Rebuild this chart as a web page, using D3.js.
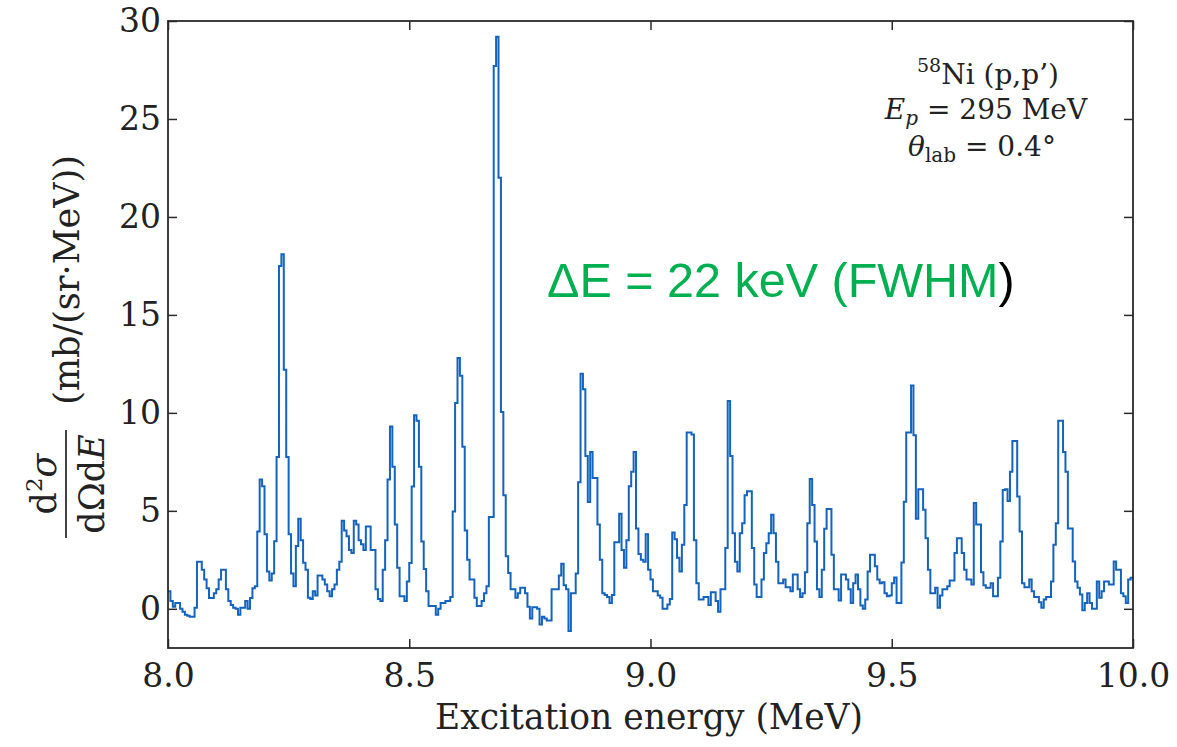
<!DOCTYPE html>
<html><head><meta charset="utf-8">
<script src="https://cdn.jsdelivr.net/npm/d3@7"></script>
<style>body{margin:0;background:#fff}</style>
</head><body>
<svg id="chart" width="1177" height="747"></svg>
<script>
// ---- data ----
const energyStart = 8.0;      // MeV, left edge of first bin
const binWidth = 0.005;       // MeV
const crossSection = [
  0.9, 0.4, 0.1, 0.3, 0.3, 0.0, -0.15, -0.3, -0.35, -0.4,
  -0.4, 0.05, 2.4, 2.4, 2.0, 1.5, 1.05, 0.55, 0.55, 0.8,
  1.0, 1.5, 2.0, 2.0, 1.0, 0.4, 0.2, 0.05, 0.0, -0.3,
  0.05, 0.05, 0.4, 0.0, 0.55, 1.05, 1.15, 3.95, 6.6, 6.25,
  3.8, 1.9, 1.45, 1.8, 3.45, 7.75, 17.5, 18.1, 12.2, 7.75,
  3.8, 1.8, 1.15, 3.2, 4.6, 3.5, 2.35, 2.0, 0.56, 0.5,
  0.9, 0.68, 1.7, 1.7, 1.5, 1.24, 0.9, 0.64, 1.0, 1.24,
  2.0, 2.4, 4.5, 4.0, 3.7, 3.0, 2.85, 4.5, 4.3, 3.5,
  3.3, 3.0, 4.2, 4.2, 3.0, 3.0, 1.0, 0.5, 0.4, 2.0,
  3.5, 6.6, 9.3, 7.25, 4.3, 2.1, 0.64, 0.64, 0.4, 1.4,
  2.34, 6.24, 9.88, 9.6, 7.25, 3.44, 2.03, 0.9, 0.14, 0.14,
  0.14, -0.3, 0.0, 0.3, 0.3, 0.4, 0.4, 0.6, 4.97, 10.5,
  12.8, 11.9, 8.27, 4.0, 2.5, 1.5, 1.5, 0.56, 0.14, 0.14,
  0.4, 0.8, 1.15, 4.68, 4.68, 27.7, 29.2, 22.0, 10.05, 5.8,
  2.68, 1.83, 1.0, 1.0, 0.56, 0.8, 1.07, 1.07, 0.8, 0.1,
  -0.5, 0.08, 0.08, 0.0, -0.8, -0.4, -0.5, -0.6, -0.6, 1.0,
  1.0, 1.0, 1.7, 2.3, 1.2, 1.0, -1.13, 0.8, 0.8, 1.8,
  6.46, 12.0, 11.2, 7.8, 5.45, 8.0, 6.67, 6.67, 4.3, 2.5,
  0.8, 0.7, 0.6, 0.3, 0.7, 3.4, 3.4, 4.85, 3.0, 2.1,
  3.5, 6.26, 7.0, 8.0, 4.1, 2.8, 2.5, 2.4, 3.8, 2.0,
  1.5, 0.9, 0.9, 0.68, 0.56, 0.0, 0.0, 0.22, 0.5, 3.9,
  3.55, 2.6, 1.9, 3.27, 5.3, 9.0, 9.0, 8.9, 3.5, 1.3,
  0.47, 0.47, 0.6, 0.6, 0.2, 0.85, 0.85, 0.4, -0.15, 1.0,
  1.0, 3.1, 10.6, 7.8, 3.86, 2.4, 1.9, 3.86, 4.37, 5.8,
  6.0, 6.0, 3.1, 1.24, 0.6, 0.6, 1.5, 2.85, 3.35, 3.86,
  4.8, 3.86, 2.4, 1.3, 1.3, 1.5, 1.1, 1.1, 0.9, 1.75,
  1.75, 1.0, 0.6, 0.8, 1.86, 4.37, 6.63, 5.3, 3.44, 1.0,
  0.6, 2.0, 4.08, 5.1, 5.1, 2.76, 1.0, 1.0, 0.42, 1.75,
  1.75, 1.5, 1.0, 0.3, 1.3, 1.75, 1.0, 0.17, 0.0, 0.47,
  1.9, 2.76, 2.76, 2.17, 1.5, 1.3, 1.35, 0.8, 0.64, 0.68,
  1.3, 1.6, 0.3, 0.3, 2.37, 5.47, 9.0, 9.0, 11.4, 8.86,
  4.6, 6.1, 6.1, 5.05, 3.6, 2.0, 0.8, 0.8, 1.07, 0.05,
  0.68, 1.0, 1.0, 1.15, 1.45, 1.45, 2.85, 3.6, 3.6, 2.85,
  2.0, 1.5, 1.5, 1.24, 5.4, 4.3, 4.3, 1.86, 1.2, 1.07,
  1.07, 1.3, 0.64, 0.64, 1.58, 3.44, 6.07, 6.1, 5.5, 7.0,
  8.56, 8.56, 5.73, 3.95, 1.3, 1.1, 1.1, 1.5, 0.9, 0.6,
  0.6, 0.34, 0.05, 0.47, 0.6, 0.6, 1.4, 3.27, 4.37, 9.6,
  9.6, 8.0, 7.0, 4.1, 4.1, 2.42, 1.4, 1.07, 0.73, -0.07,
  0.3, 0.8, 0.3, 0.0, 0.0, 1.4, 0.56, 0.9, 1.4, 1.4,
  1.24, 1.24, 2.42, 2.0, 2.0, 0.8, 0.64, 0.3, 1.5, 1.58
];
const xDomain = [8.0, 10.0];
const yDomain = [-2, 30];
const xTickValues = [8.0, 8.5, 9.0, 9.5, 10.0];
const yTickValues = [0, 5, 10, 15, 20, 25, 30];
const xAxisTitle = "Excitation energy (MeV)";
const yAxisUnit = "(mb/(sr·MeV))";
const resolutionLabel = "ΔE = 22 keV (FWHM";
const reactionLines = ["Ni (p,p’)", "= 295 MeV", "= 0.4°"];

// ---- layout ----
const plot = {left: 168, right: 1133, top: 21, bottom: 648};
const serif = "DejaVu Serif";
const lineColor = "#1463be";
const frameColor = "#2a2a2a";

const svg = d3.select("#chart");
const x = d3.scaleLinear().domain(xDomain).range([plot.left, plot.right]);
const y = d3.scaleLinear().domain(yDomain).range([plot.bottom, plot.top]);

// step data
const pts = crossSection.map((v, i) => [energyStart + i * binWidth, v]);
pts.push([energyStart + crossSection.length * binWidth, crossSection[crossSection.length - 1]]);

svg.append("defs").append("clipPath").attr("id", "clip")
  .append("rect").attr("x", plot.left).attr("y", plot.top)
  .attr("width", plot.right - plot.left).attr("height", plot.bottom - plot.top);

const line = d3.line().x(d => x(d[0])).y(d => y(d[1])).curve(d3.curveStepAfter);
svg.append("path").datum(pts)
  .attr("clip-path", "url(#clip)")
  .attr("fill", "none").attr("stroke", lineColor).attr("stroke-width", 2)
  .attr("stroke-linejoin", "miter")
  .attr("d", line);

// axes
const tickLen = 9;
function styleAxis(g, showLabels) {
  g.select(".domain").remove();
  g.selectAll(".tick line").attr("stroke", frameColor).attr("stroke-width", 1.5);
  g.selectAll(".tick text").attr("font-family", serif).attr("font-size", 33).attr("fill", "#222");
  if (!showLabels) g.selectAll(".tick text").remove();
}
svg.append("g").attr("transform", `translate(0,${plot.bottom})`)
  .call(d3.axisBottom(x).tickValues(xTickValues).tickSize(-tickLen).tickPadding(16).tickFormat(d3.format(".1f")))
  .call(g => styleAxis(g, true));
svg.append("g").attr("transform", `translate(0,${plot.top})`)
  .call(d3.axisTop(x).tickValues(xTickValues).tickSize(-tickLen))
  .call(g => styleAxis(g, false));
svg.append("g").attr("transform", `translate(${plot.left},0)`)
  .call(d3.axisLeft(y).tickValues(yTickValues).tickSize(-tickLen).tickPadding(7).tickFormat(d3.format("d")))
  .call(g => styleAxis(g, true));
svg.append("g").attr("transform", `translate(${plot.right},0)`)
  .call(d3.axisRight(y).tickValues(yTickValues).tickSize(-tickLen))
  .call(g => styleAxis(g, false));

// frame
svg.append("rect").attr("x", plot.left).attr("y", plot.top)
  .attr("width", plot.right - plot.left).attr("height", plot.bottom - plot.top)
  .attr("fill", "none").attr("stroke", frameColor).attr("stroke-width", 1.8);

// x axis title
svg.append("text").attr("x", 649).attr("y", 729)
  .attr("text-anchor", "middle").attr("font-family", serif).attr("font-size", 34.5)
  .attr("fill", "#222").text(xAxisTitle);

// y axis title (rotated)
const yl = svg.append("g").attr("transform", "rotate(-90)")
  .attr("font-family", serif).attr("fill", "#222");
const fracCenter = -484;
const num = yl.append("text").attr("x", fracCenter).attr("y", 56).attr("text-anchor", "middle").attr("font-size", 35);
num.append("tspan").text("d");
num.append("tspan").attr("dy", -14).attr("font-size", 23).text("2");
num.append("tspan").attr("dy", 14).attr("font-style", "italic").text("σ");
yl.append("line").attr("x1", fracCenter - 54).attr("x2", fracCenter + 54)
  .attr("y1", 66).attr("y2", 66).attr("stroke", "#222").attr("stroke-width", 1.7);
const den = yl.append("text").attr("x", fracCenter).attr("y", 104).attr("text-anchor", "middle").attr("font-size", 35);
den.append("tspan").text("dΩd");
den.append("tspan").attr("font-style", "italic").text("E");
yl.append("text").attr("x", -280).attr("y", 79).attr("text-anchor", "middle")
  .attr("font-size", 35).text(yAxisUnit);

// reaction annotation
const ann = svg.append("g").attr("font-family", serif).attr("fill", "#222").attr("font-size", 28);
const l1 = ann.append("text").attr("x", 988).attr("y", 84).attr("text-anchor", "middle");
l1.append("tspan").attr("font-size", 19).attr("dy", -12).text("58");
l1.append("tspan").attr("dy", 12).text(reactionLines[0]);
const l2 = ann.append("text").attr("x", 986).attr("y", 119).attr("text-anchor", "middle");
l2.append("tspan").attr("font-style", "italic").text("E");
l2.append("tspan").attr("font-style", "italic").attr("font-size", 20).attr("dy", 6).text("p");
l2.append("tspan").attr("dy", -6).text(" " + reactionLines[1]);
const l3 = ann.append("text").attr("x", 982).attr("y", 156).attr("text-anchor", "middle");
l3.append("tspan").attr("font-style", "italic").text("θ");
l3.append("tspan").attr("font-size", 20).attr("dy", 6).text("lab");
l3.append("tspan").attr("dy", -6).text(" " + reactionLines[2]);

// resolution label
const rl = svg.append("text").attr("x", 547).attr("y", 297)
  .attr("font-family", "Liberation Sans, Arial, sans-serif").attr("font-size", 48.5);
rl.append("tspan").attr("fill", "#00b050").text(resolutionLabel);
rl.append("tspan").attr("fill", "#000").text(")");
</script>
</body></html>
